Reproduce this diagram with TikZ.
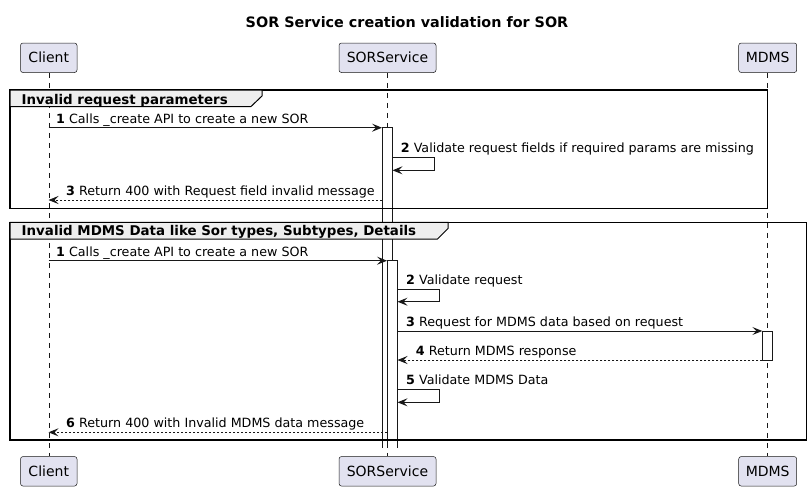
\documentclass[tikz,border=0pt]{standalone}
\usepackage{fontspec}
\setmainfont{DejaVu Sans}
\usetikzlibrary{arrows.meta}
\definecolor{pfill}{HTML}{E2E2F0}
\definecolor{ink}{HTML}{181818}
\definecolor{tabfill}{HTML}{EEEEEE}
\begin{document}
\begin{tikzpicture}[x=1pt,y=-1pt,
  part/.style={draw=ink, fill=pfill, rounded corners=2.5pt, line width=0.5pt,
    minimum height=29.5pt, inner sep=0pt, font=\fontsize{14}{16}\selectfont},
  msg/.style={font=\fontsize{12.7}{15}\selectfont, anchor=base west, inner sep=0pt},
  glabel/.style={font=\bfseries\fontsize{13.4}{15}\selectfont, anchor=base west, inner sep=0pt},
  life/.style={draw=ink, line width=0.5pt, dash pattern=on 5pt off 5pt},
  arr/.style={draw=ink, line width=0.9pt, -{Stealth[length=10pt,width=8pt,inset=4pt]}},
  ret/.style={arr, dash pattern=on 2pt off 2pt},
  actfill/.style={fill=white},
  act/.style={draw=ink, line width=0.9pt},
  frame/.style={draw=black, line width=1.5pt},
  tab/.style={draw=black, fill=tabfill, line width=1pt},
]
\useasboundingbox (0,0) rectangle (811,491);

% title
\node[font=\bfseries\fontsize{14.35}{16}\selectfont, anchor=base, inner sep=0pt] (title) at (407,27.5) {SOR Service creation validation for SOR};

% participants
\node[part, minimum width=56.5pt] (clientT) at (48.75,57.75) {Client};
\node[part, minimum width=97pt] (sorT) at (387.5,57.75) {SORService};
\node[part, minimum width=58pt] (mdmsT) at (767.7,57.75) {MDMS};
\node[part, minimum width=56.5pt] (clientB) at (48.75,471.3) {Client};
\node[part, minimum width=97pt] (sorB) at (387.5,471.3) {SORService};
\node[part, minimum width=58pt] (mdmsB) at (767.7,471.3) {MDMS};

% lifelines
\draw[life] (clientT.south) -- (clientB.north);
\draw[life] (sorT.south) -- (sorB.north);
\draw[life] (mdmsT.south) -- (mdmsB.north);

% activation bars (open at the end)
\fill[actfill] (382,127.7) rectangle (392.5,447.5);
\draw[act] (382,447.5) -- (382,127.7) -- (392.5,127.7) -- (392.5,447.5);
\fill[actfill] (387,260.7) rectangle (397.5,447.5);
\draw[act] (387,447.5) -- (387,260.7) -- (397.5,260.7) -- (397.5,447.5);
\draw[act, fill=white] (762.3,331) rectangle (772.7,360);

% groups
\draw[frame] (10,90) rectangle (767.5,208.3);
\draw[tab] (10,90) -- (262,90) -- (262,96) -- (251,106.5) -- (10,106.5) -- cycle;
\node[glabel] (g1) at (21.5,104) {Invalid request parameters};

\draw[frame] (10,222.3) rectangle (806.7,440);
\draw[tab] (10,222.3) -- (448,222.3) -- (448,228.5) -- (437.5,239) -- (10,239) -- cycle;
\node[glabel] (g2) at (21.5,235) {Invalid MDMS Data like Sor types, Subtypes, Details};

% coordinates
\coordinate (c1) at (48.5,127.7);  \coordinate (s1) at (382,127.7);
\coordinate (s2a) at (392.5,157.3); \coordinate (s2b) at (392.5,170.3);
\coordinate (s3) at (382,200);     \coordinate (c3) at (48.5,200);
\coordinate (c4) at (48.5,260.7);  \coordinate (s4) at (387,260.7);
\coordinate (s5a) at (397.5,289.3); \coordinate (s5b) at (397.5,301.7);
\coordinate (s6) at (397.5,331);   \coordinate (m6) at (762.3,331);
\coordinate (m7) at (762.3,360);   \coordinate (s7) at (397.5,360);
\coordinate (s8a) at (397.5,389.3); \coordinate (s8b) at (397.5,402.3);
\coordinate (s9) at (387,432.3);   \coordinate (c9) at (48.5,432.3);

% messages group 1
\draw[arr] (c1) -- (s1);
\node[msg] (t1) at (56,123.2) {\textbf{1} Calls \_create API to create a new SOR};
\draw[arr] (s2a) -- (434.3,157.3) |- (s2b);
\node[msg] (t2) at (400.7,152.8) {\textbf{2} Validate request fields if required params are missing};
\draw[ret] (s3) -- (c3);
\node[msg] (t3) at (66,195.5) {\textbf{3} Return 400 with Request field invalid message};

% messages group 2
\draw[arr] (c4) -- (s4);
\node[msg] (t4) at (56,256.2) {\textbf{1} Calls \_create API to create a new SOR};
\draw[arr] (s5a) -- (439.3,289.3) |- (s5b);
\node[msg] (t5) at (406,284.8) {\textbf{2} Validate request};
\draw[arr] (s6) -- (m6);
\node[msg] (t6) at (406,326.5) {\textbf{3} Request for MDMS data based on request};
\draw[ret] (m7) -- (s7);
\node[msg] (t7) at (415.7,355.5) {\textbf{4} Return MDMS response};
\draw[arr] (s8a) -- (439.3,389.3) |- (s8b);
\node[msg] (t8) at (406,384.8) {\textbf{5} Validate MDMS Data};
\draw[ret] (s9) -- (c9);
\node[msg] (t9) at (66,427.8) {\textbf{6} Return 400 with Invalid MDMS data message};
\end{tikzpicture}
\end{document}
